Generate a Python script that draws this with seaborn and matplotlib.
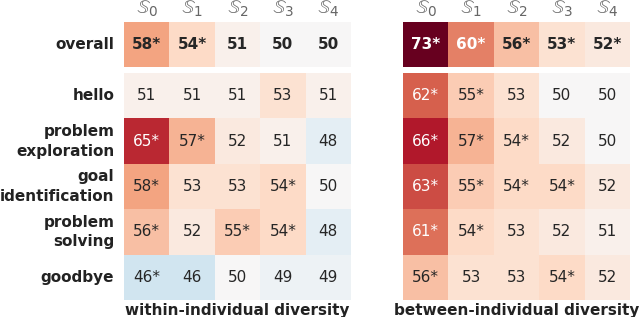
import numpy as np
import pandas as pd
import seaborn as sns
import matplotlib
matplotlib.use("Agg")
import matplotlib.pyplot as plt

cols = [r"$\mathbb{S}_%d$" % i for i in range(5)]
rows = ["hello", "problem\nexploration", "goal\nidentification", "problem\nsolving", "goodbye"]

# within-individual diversity
within_overall = [58, 54, 51, 50, 50]
within_overall_sig = [1, 1, 0, 0, 0]
within_vals = [[51, 51, 51, 53, 51],
               [65, 57, 52, 51, 48],
               [58, 53, 53, 54, 50],
               [56, 52, 55, 54, 48],
               [46, 46, 50, 49, 49]]
within_sig = [[0, 0, 0, 0, 0],
              [1, 1, 0, 0, 0],
              [1, 0, 0, 1, 0],
              [1, 0, 1, 1, 0],
              [1, 0, 0, 0, 0]]

# between-individual diversity
between_overall = [73, 60, 56, 53, 52]
between_overall_sig = [1, 1, 1, 1, 1]
between_vals = [[62, 55, 53, 50, 50],
                [66, 57, 54, 52, 50],
                [63, 55, 54, 54, 52],
                [61, 54, 53, 52, 51],
                [56, 53, 53, 54, 52]]
between_sig = [[1, 1, 0, 0, 0],
               [1, 1, 1, 0, 0],
               [1, 1, 1, 1, 0],
               [1, 1, 0, 0, 0],
               [1, 0, 0, 1, 0]]


def labels(vals, sig):
    v = np.array(vals)
    s = np.array(sig)
    return np.where(s == 1, v.astype(str).astype(object) + "*", v.astype(str))


fig = plt.figure(figsize=(6.4, 3.17), dpi=100)
kw = dict(cmap="RdBu_r", center=50, vmin=30, vmax=70, cbar=False, fmt="")

panels = [
    (124, within_overall, within_overall_sig, within_vals, within_sig, "within-individual diversity", True),
    (403, between_overall, between_overall_sig, between_vals, between_sig, "between-individual diversity", False),
]

for x0, ov, ovs, vals, sig, title, show_rows in panels:
    left = x0 / 640
    w = 227 / 640
    ax_top = fig.add_axes([left, 1 - 67 / 317, w, 45 / 317])
    ax_bot = fig.add_axes([left, 1 - 300 / 317, w, 227 / 317])

    top_df = pd.DataFrame([ov], index=["overall"], columns=cols)
    sns.heatmap(top_df, ax=ax_top, annot=labels([ov], [ovs]),
                annot_kws={"fontsize": 11, "fontweight": "bold"}, **kw)
    ax_top.xaxis.tick_top()
    ax_top.tick_params(axis="x", length=0, labelsize=14, pad=2)
    ax_top.tick_params(axis="y", length=0, colors="#222222", labelsize=11, pad=7)
    for t in ax_top.get_yticklabels():
        t.set_fontweight("bold")
        t.set_rotation(0)
    for t in ax_top.get_xticklabels():
        t.set_color("#666666")

    bot_df = pd.DataFrame(vals, index=rows, columns=cols)
    sns.heatmap(bot_df, ax=ax_bot, annot=labels(vals, sig),
                annot_kws={"fontsize": 11}, **kw)
    ax_bot.set_xticks([])
    ax_bot.tick_params(length=0, labelsize=11, colors="#222222", pad=7)
    for t in ax_bot.get_yticklabels():
        t.set_fontweight("bold")
        t.set_rotation(0)
        t.set_linespacing(1.4)
    ax_bot.set_xlabel(title, fontsize=11, fontweight="bold", color="#222222", labelpad=2)
    ax_bot.set_ylabel("")
    ax_top.set_ylabel("")
    ax_top.set_xlabel("")

    if not show_rows:
        ax_top.set_yticks([])
        ax_bot.set_yticks([])

fig.savefig("out.png", dpi=100)
